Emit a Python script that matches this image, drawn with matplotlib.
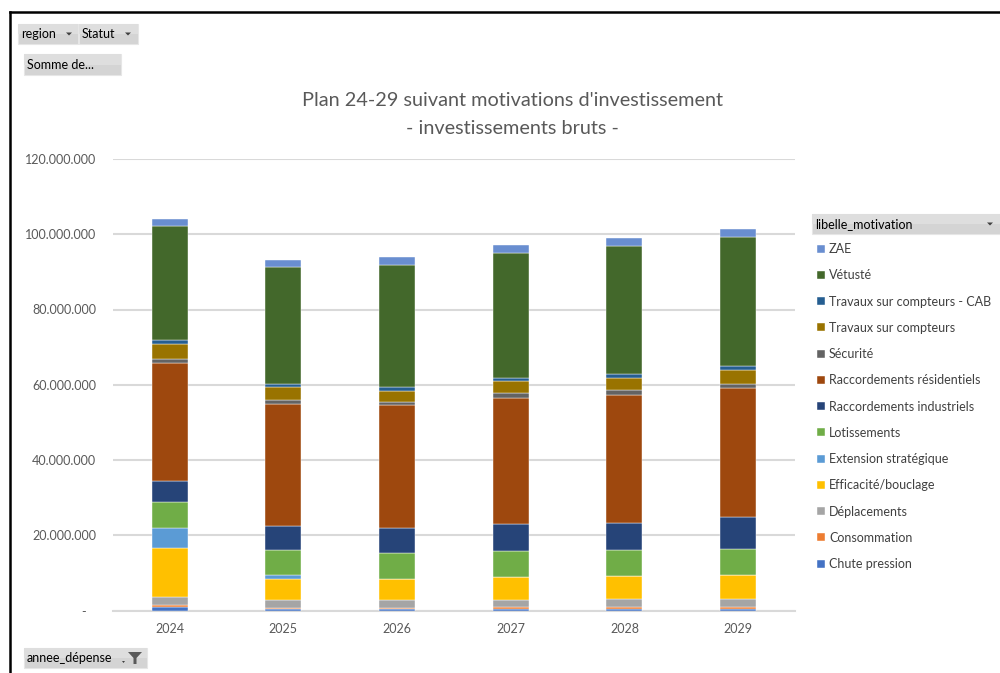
import matplotlib
matplotlib.use("Agg")
import matplotlib.pyplot as plt
from matplotlib.patches import Rectangle, Polygon
from matplotlib.lines import Line2D
from matplotlib.ticker import FuncFormatter

plt.rcParams['font.family'] = ['Lato', 'DejaVu Sans']

years = ["2024", "2025", "2026", "2027", "2028", "2029"]

# stacked bottom -> top, values in millions
chute_pression        = [1.0, 0.3, 0.3, 0.4, 0.4, 0.4]
consommation          = [0.5, 0.45, 0.45, 0.5, 0.5, 0.5]
deplacements          = [2.0, 2.05, 2.05, 2.0, 2.2, 2.2]
efficacite_bouclage   = [13.1, 5.5, 5.6, 6.0, 6.2, 6.3]
extension_strategique = [5.4, 1.1, 0.0, 0.0, 0.0, 0.0]
lotissements          = [6.8, 6.8, 6.8, 6.9, 6.9, 7.0]
racc_industriels      = [5.6, 6.2, 6.6, 7.2, 7.1, 8.5]
racc_residentiels     = [31.4, 32.6, 32.7, 33.6, 34.0, 34.2]
securite              = [1.1, 1.0, 1.0, 1.2, 1.3, 1.2]
travaux_compteurs     = [4.0, 3.3, 2.9, 3.1, 3.2, 3.6]
travaux_cab           = [1.0, 0.9, 1.1, 1.0, 1.1, 1.0]
vetuste               = [30.2, 31.0, 32.2, 33.2, 34.0, 34.4]
zae                   = [1.9, 1.9, 2.2, 2.0, 2.2, 2.2]

series = [
    ("Chute pression", chute_pression, "#4472C4"),
    ("Consommation", consommation, "#ED7D31"),
    ("Déplacements", deplacements, "#A5A5A5"),
    ("Efficacité/bouclage", efficacite_bouclage, "#FFC000"),
    ("Extension stratégique", extension_strategique, "#5B9BD5"),
    ("Lotissements", lotissements, "#70AD47"),
    ("Raccordements industriels", racc_industriels, "#264478"),
    ("Raccordements résidentiels", racc_residentiels, "#9E480E"),
    ("Sécurité", securite, "#636363"),
    ("Travaux sur compteurs", travaux_compteurs, "#997300"),
    ("Travaux sur compteurs - CAB", travaux_cab, "#255E91"),
    ("Vétusté", vetuste, "#43682B"),
    ("ZAE", zae, "#698ED0"),
]

title_lines = ["Plan 24-29 suivant motivations d'investissement", "- investissements bruts -"]
yticks = [0, 20, 40, 60, 80, 100, 120]

W, H = 1000, 673
fig = plt.figure(figsize=(W / 100, H / 100), dpi=100)
fig.patch.set_facecolor("white")

def fx(px):
    return px / W

def fy(py):
    return 1 - py / H

ax = fig.add_axes([fx(112.7), fy(610.5), fx(795) - fx(112.7), fy(159) - fy(610.5)])
x = list(range(len(years)))
bottom = [0.0] * len(years)
handles = []
for name, vals, col in series:
    vals_abs = [v * 1e6 for v in vals]
    b = ax.bar(x, vals_abs, width=0.317, bottom=bottom, color=col,
               edgecolor="white", linewidth=0.3, label=name, zorder=3)
    handles.append(b)
    bottom = [bo + v for bo, v in zip(bottom, vals_abs)]

ax.set_xlim(-0.5, len(years) - 0.5)
ax.set_ylim(0, 120e6)
ax.set_yticks([t * 1e6 for t in yticks])

def fmt(v, pos):
    if v == 0:
        return "-   "
    return f"{int(round(v)):,}".replace(",", ".")

ax.yaxis.set_major_formatter(FuncFormatter(fmt))
ax.set_xticks(x)
ax.set_xticklabels(years)
ax.tick_params(axis="both", length=0, labelsize=9, colors="#595959")
ax.tick_params(axis="y", pad=12)
ax.tick_params(axis="x", pad=9)
ax.grid(axis="y", color="#D9D9D9", linewidth=1.5, zorder=0)
for s in ["top", "right", "left"]:
    ax.spines[s].set_visible(False)
ax.spines["bottom"].set_color("#D9D9D9")
ax.spines["bottom"].set_linewidth(1.5)
ax.set_facecolor("none")

# Title
fig.text(fx(512), fy(101), title_lines[0], ha="center", va="center", fontsize=14.3, color="#595959")
fig.text(fx(512), fy(129), title_lines[1], ha="center", va="center", fontsize=14.3, color="#595959")

# Legend
leg_h = handles[::-1]
leg_l = [s[0] for s in series][::-1]
leg = fig.legend(leg_h, leg_l, loc="upper left", bbox_to_anchor=(fx(817), fy(243)),
                 frameon=False, fontsize=9, handlelength=0.6, handleheight=0.6,
                 handletextpad=0.35, labelspacing=1.14, borderaxespad=0, borderpad=0)
for t in leg.get_texts():
    t.set_color("#404040")

# Outer border
fig.add_artist(Line2D([fx(10), fx(1000)], [fy(11.5), fy(11.5)], color="black", linewidth=1.8))
fig.add_artist(Line2D([fx(10), fx(10)], [fy(11.5), 0], color="black", linewidth=1.8))

def button(x0, y0, x1, y1, label, arrow=None, funnel=False, fs=9):
    fig.add_artist(Rectangle((fx(x0), fy(y1)), fx(x1) - fx(x0), fy(y0) - fy(y1),
                             facecolor="#D4D4D4", edgecolor="#E6E6E6", linewidth=0.8))
    fig.add_artist(Rectangle((fx(x0), fy((y0 + y1) / 2)), fx(x1) - fx(x0), fy(y0) - fy((y0 + y1) / 2),
                             facecolor="#DEDEDE", edgecolor="none", linewidth=0))
    fig.text(fx(x0 + 3), fy((y0 + y1) / 2 + 0.5), label, ha="left", va="center",
             fontsize=fs, color="#000000", family=["Lato", "DejaVu Sans"])
    if arrow is not None:
        cx, cy = arrow, (y0 + y1) / 2
        fig.add_artist(Polygon([(fx(cx - 3), fy(cy - 1.5)), (fx(cx + 3), fy(cy - 1.5)), (fx(cx), fy(cy + 1.5))],
                               closed=True, facecolor="#404040", edgecolor="none"))
    if funnel:
        cx, cy = 135, (y0 + y1) / 2
        fig.add_artist(Polygon([(fx(cx - 7), fy(cy - 6)), (fx(cx + 7), fy(cy - 6)), (fx(cx + 1.5), fy(cy)),
                                (fx(cx + 1.5), fy(cy + 6)), (fx(cx - 1.5), fy(cy + 6)), (fx(cx - 1.5), fy(cy))],
                               closed=True, facecolor="#595959", edgecolor="none"))
        fig.add_artist(Polygon([(fx(cx - 13), fy(cy + 3)), (fx(cx - 10), fy(cy + 3)), (fx(cx - 11.5), fy(cy + 5))],
                               closed=True, facecolor="#404040", edgecolor="none"))

button(18, 24, 78, 44, "region", arrow=69)
button(79, 24, 138, 44, "Statut", arrow=128)
button(24, 54, 121, 75, "Somme de...")
button(24, 648, 147, 668, "annee_dépense", funnel=True)
button(812, 214, 1000, 234, "libelle_motivation", arrow=990)

fig.savefig("out.png", dpi=100, facecolor="white")
